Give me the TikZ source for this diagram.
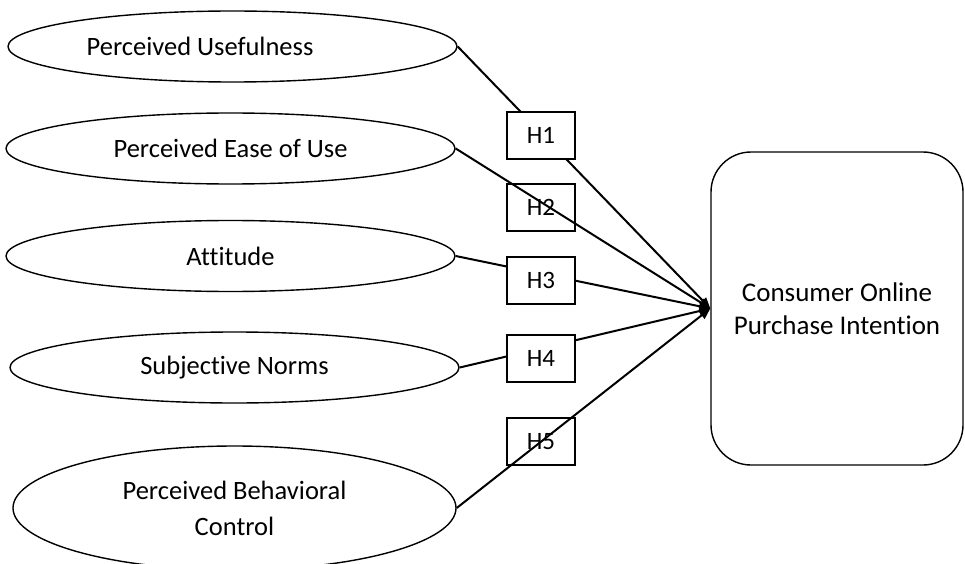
\documentclass[tikz,border=0pt]{standalone}
\usepackage{fontspec}
\setmainfont[Ligatures={NoCommon},RawFeature={-calt;-liga;-dlig}]{Carlito}
\usetikzlibrary{shapes.geometric,arrows.meta}
\tikzset{
  txt/.style={font=\fontsize{26.5}{36}\selectfont,align=center},
  construct/.style={ellipse,draw=black,line width=1.4pt,inner sep=0pt,minimum width=449pt,minimum height=71pt,txt},
  hyp/.style={rectangle,draw=black,line width=1.4pt,minimum width=68pt,minimum height=47pt,inner sep=0pt,font=\fontsize{25}{30}\selectfont},
  outcome/.style={rectangle,draw=black,line width=1.4pt,rounded corners=40pt,minimum width=252pt,minimum height=313pt,inner sep=0pt,font=\fontsize{27}{33}\selectfont,align=center},
  link/.style={line width=2pt,-{Triangle[length=11pt,width=9pt]}}
}
\begin{document}
\begin{tikzpicture}[x=1pt,y=-1pt]
\useasboundingbox (0,0) rectangle (965,564);
\clip (0,0) rectangle (965,564);
% constructs
\node[construct] (pu) at (232.5,46.5) {};
\node[txt] (putext) at (200,46) {Perceived Usefulness};
\node[construct] (peou) at (230.5,148.5) {Perceived Ease of Use};
\node[construct] (att) at (230.5,256) {Attitude};
\node[construct] (sn) at (234.5,367.5) {Subjective Norms};
\node[construct,minimum width=443pt,minimum height=124pt] (pbc) at (234.5,508) {Perceived Behavioral\\Control};
% outcome
\node[outcome] (cop) at (837,308.5) {Consumer Online\\Purchase Intention};
% connectors under filled boxes
\draw[link] (pu.east) -- (cop.west);
\draw[link] (att.east) -- (cop.west);
\draw[link] (sn.east) -- (cop.west);
% hypothesis boxes
\node[hyp,fill=white] (h1) at (541,135.5) {H1};
\node[hyp] (h2) at (541,207.5) {H2};
\node[hyp,fill=white] (h3) at (541,280.5) {H3};
\node[hyp,fill=white] (h4) at (541,358.5) {H4};
\node[hyp] (h5) at (541,441.5) {H5};
% connectors over open boxes
\draw[link] (peou.east) -- (cop.west);
\draw[link] (pbc.east) -- (cop.west);
\end{tikzpicture}
\end{document}
